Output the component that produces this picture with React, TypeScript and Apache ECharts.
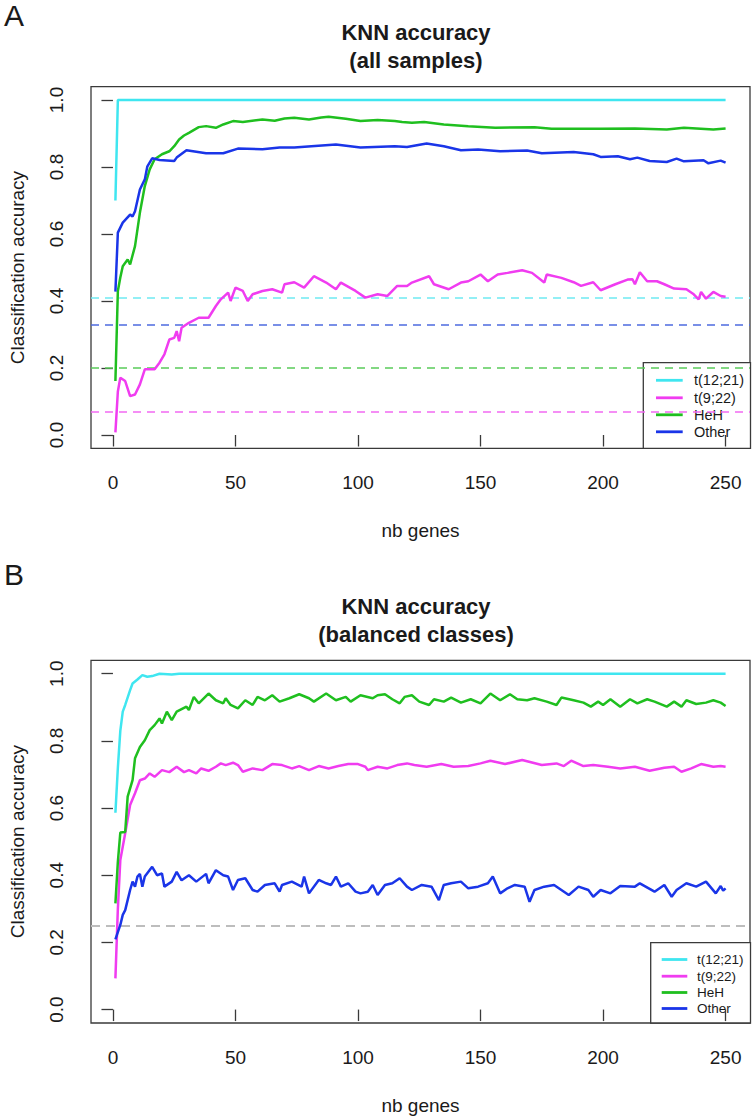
import React, { useEffect, useRef } from "react";
import * as echarts from "echarts";

const FONT = "'Liberation Sans', Arial, Helvetica, sans-serif";

const classNames = ["t(12;21)", "t(9;22)", "HeH", "Other"];
const lineColors = ["#3FE6F0", "#F03CF0", "#1FBF1F", "#1A35E8"];
const chanceColors = ["#6FEAF2", "#F26AF2", "#5ACB5A", "#4D6BE0"];
const xTicks = [0, 50, 100, 150, 200, 250];
const yTicks = [0, 0.2, 0.4, 0.6, 0.8, 1];

const aChance = [0.413, 0.074, 0.196, 0.325];
const bChance = 0.25;

// Panel A: all samples  [nb genes, accuracy]
const aT1221 = [[1, 0.7], [2, 1.0], [250, 1.0]];

const aT922 = [
  [1, 0.008], [2, 0.13], [3, 0.171], [5, 0.161], [7, 0.116], [9, 0.121], [11, 0.151], [13, 0.196],
  [17, 0.196], [19, 0.216], [21, 0.241], [23, 0.285], [25, 0.29], [26, 0.31], [27, 0.28], [28, 0.32],
  [31, 0.335], [35, 0.35], [39, 0.35], [42, 0.385], [44, 0.405], [47, 0.425], [48, 0.4], [50, 0.44],
  [53, 0.43], [55, 0.4], [57, 0.42], [61, 0.43], [65, 0.435], [69, 0.425], [70, 0.45], [74, 0.456],
  [78, 0.44], [82, 0.474], [87, 0.455], [91, 0.435], [93, 0.455], [99, 0.43], [103, 0.41], [108, 0.42],
  [112, 0.415], [116, 0.445], [120, 0.445], [122, 0.455], [129, 0.474], [131, 0.45], [137, 0.435],
  [142, 0.455], [145, 0.459], [150, 0.479], [153, 0.459], [157, 0.479], [161, 0.484], [167, 0.492],
  [171, 0.484], [176, 0.455], [177, 0.479], [183, 0.469], [188, 0.456], [191, 0.445], [196, 0.456],
  [199, 0.432], [205, 0.45], [210, 0.464], [212, 0.465], [213, 0.45], [215, 0.486], [218, 0.459],
  [222, 0.459], [225, 0.45], [229, 0.437], [234, 0.435], [237, 0.42], [239, 0.405], [240, 0.427],
  [242, 0.407], [245, 0.427], [248, 0.415], [250, 0.413],
];

const aHeH = [
  [1, 0.161], [2, 0.43], [3, 0.47], [4, 0.504], [6, 0.524], [7, 0.509], [9, 0.564], [11, 0.664],
  [13, 0.743], [15, 0.793], [17, 0.823], [20, 0.838], [23, 0.847], [25, 0.862], [27, 0.882], [29, 0.894],
  [31, 0.902], [35, 0.919], [38, 0.922], [42, 0.917], [45, 0.927], [49, 0.937], [53, 0.934], [61, 0.942],
  [66, 0.938], [70, 0.945], [74, 0.947], [80, 0.942], [85, 0.948], [88, 0.95], [95, 0.944], [101, 0.937],
  [108, 0.94], [115, 0.937], [118, 0.934], [122, 0.932], [127, 0.934], [135, 0.927], [145, 0.922],
  [156, 0.917], [172, 0.919], [179, 0.914], [199, 0.914], [213, 0.915], [226, 0.912], [233, 0.917],
  [245, 0.912], [250, 0.915],
];

const aOther = [
  [1, 0.428], [2, 0.604], [4, 0.634], [7, 0.658], [8, 0.652], [9, 0.668], [11, 0.733], [13, 0.763],
  [14, 0.801], [16, 0.826], [19, 0.821], [25, 0.818], [26, 0.828], [30, 0.85], [38, 0.841], [45, 0.841],
  [51, 0.855], [61, 0.853], [68, 0.858], [74, 0.858], [81, 0.862], [91, 0.867], [101, 0.858], [115, 0.862],
  [120, 0.86], [128, 0.87], [135, 0.862], [142, 0.85], [149, 0.852], [158, 0.847], [169, 0.849],
  [175, 0.841], [188, 0.845], [196, 0.838], [199, 0.83], [206, 0.832], [211, 0.823], [214, 0.828],
  [219, 0.818], [226, 0.815], [230, 0.825], [233, 0.817], [241, 0.82], [243, 0.811], [248, 0.819],
  [250, 0.813],
];

// Panel B: balanced classes
const bT1221 = [
  [1, 0.586], [2, 0.72], [3, 0.83], [4, 0.887], [5, 0.907], [7, 0.951], [8, 0.971], [10, 0.983],
  [12, 0.996], [14, 0.991], [16, 0.993], [19, 1.0], [24, 0.998], [27, 1.0], [250, 1.0],
];

const bT922 = [
  [1, 0.093], [2, 0.3], [3, 0.445], [5, 0.525], [7, 0.609], [9, 0.644], [11, 0.683], [13, 0.688],
  [15, 0.703], [17, 0.693], [20, 0.713], [23, 0.707], [26, 0.723], [29, 0.707], [31, 0.713], [34, 0.703],
  [36, 0.718], [39, 0.711], [42, 0.723], [44, 0.733], [46, 0.728], [49, 0.735], [51, 0.728], [53, 0.708],
  [57, 0.718], [61, 0.713], [65, 0.731], [69, 0.728], [73, 0.718], [76, 0.725], [80, 0.713], [84, 0.725],
  [88, 0.718], [92, 0.725], [96, 0.731], [100, 0.731], [103, 0.723], [104, 0.713], [108, 0.723],
  [112, 0.718], [116, 0.728], [120, 0.733], [123, 0.728], [128, 0.723], [134, 0.731], [139, 0.723],
  [145, 0.725], [150, 0.733], [154, 0.741], [160, 0.731], [167, 0.743], [175, 0.728], [181, 0.733],
  [184, 0.725], [187, 0.741], [192, 0.725], [196, 0.728], [202, 0.723], [207, 0.718], [213, 0.723],
  [219, 0.711], [225, 0.72], [229, 0.723], [232, 0.708], [236, 0.718], [240, 0.731], [245, 0.723],
  [248, 0.725], [250, 0.723],
];

const bHeH = [
  [1, 0.316], [2, 0.44], [3, 0.527], [5, 0.529], [6, 0.634], [8, 0.683], [9, 0.748], [11, 0.782],
  [13, 0.802], [15, 0.832], [17, 0.847], [19, 0.867], [20, 0.852], [22, 0.887], [24, 0.862], [26, 0.887],
  [30, 0.902], [31, 0.892], [33, 0.931], [35, 0.912], [39, 0.941], [42, 0.921], [45, 0.912], [46, 0.927],
  [48, 0.907], [51, 0.897], [54, 0.921], [57, 0.907], [59, 0.931], [62, 0.921], [65, 0.936], [68, 0.917],
  [72, 0.927], [76, 0.939], [80, 0.927], [82, 0.917], [87, 0.941], [91, 0.921], [95, 0.931], [97, 0.917],
  [101, 0.936], [106, 0.927], [108, 0.936], [111, 0.939], [114, 0.924], [117, 0.912], [119, 0.931],
  [122, 0.936], [125, 0.917], [129, 0.907], [131, 0.924], [135, 0.917], [138, 0.929], [142, 0.914],
  [146, 0.924], [150, 0.912], [154, 0.941], [158, 0.921], [162, 0.939], [165, 0.924], [169, 0.921],
  [172, 0.927], [177, 0.917], [181, 0.907], [183, 0.929], [188, 0.921], [192, 0.914], [195, 0.902],
  [198, 0.917], [200, 0.907], [203, 0.924], [207, 0.902], [211, 0.924], [214, 0.912], [218, 0.924],
  [221, 0.917], [226, 0.902], [229, 0.917], [232, 0.902], [234, 0.921], [238, 0.91], [242, 0.914],
  [245, 0.921], [248, 0.914], [250, 0.904],
];

const bOther = [
  [1, 0.209], [3, 0.252], [4, 0.282], [5, 0.296], [7, 0.356], [8, 0.381], [9, 0.366], [10, 0.396],
  [11, 0.404], [12, 0.366], [13, 0.396], [16, 0.425], [18, 0.4], [20, 0.405], [21, 0.366], [24, 0.381],
  [26, 0.41], [28, 0.385], [31, 0.4], [34, 0.381], [38, 0.404], [39, 0.376], [42, 0.415], [45, 0.4],
  [47, 0.396], [49, 0.356], [51, 0.386], [54, 0.391], [57, 0.356], [59, 0.351], [62, 0.371], [66, 0.376],
  [68, 0.351], [69, 0.371], [73, 0.381], [77, 0.366], [78, 0.396], [80, 0.346], [84, 0.386], [87, 0.376],
  [89, 0.371], [91, 0.396], [93, 0.366], [96, 0.376], [99, 0.351], [101, 0.346], [104, 0.351],
  [106, 0.371], [108, 0.341], [111, 0.371], [114, 0.376], [117, 0.391], [120, 0.366], [122, 0.356],
  [126, 0.371], [130, 0.366], [133, 0.326], [135, 0.371], [138, 0.376], [142, 0.381], [145, 0.361],
  [149, 0.366], [153, 0.376], [155, 0.396], [158, 0.346], [161, 0.361], [164, 0.371], [168, 0.366],
  [170, 0.321], [172, 0.356], [176, 0.366], [180, 0.371], [186, 0.341], [190, 0.366], [194, 0.356],
  [196, 0.336], [199, 0.356], [203, 0.346], [207, 0.368], [213, 0.366], [215, 0.376], [221, 0.351],
  [225, 0.371], [228, 0.336], [230, 0.356], [234, 0.376], [238, 0.366], [242, 0.381], [246, 0.346],
  [248, 0.368], [249, 0.354], [250, 0.361],
];

const panelA = [aT1221, aT922, aHeH, aOther];
const panelB = [bT1221, bT922, bHeH, bOther];

const AXIS_COLOR = "#3a3a3a";
const TEXT_COLOR = "#1a1a1a";

function makeAxes(i: number) {
  const x = {
    gridIndex: i,
    type: "value",
    min: -8.96,
    max: 259.96,
    axisLine: { show: false },
    splitLine: { show: false },
    axisTick: { show: true, customValues: xTicks, length: 11.5, lineStyle: { color: AXIS_COLOR, width: 1.3 } },
    axisLabel: { customValues: xTicks, margin: 25, fontSize: 19, color: TEXT_COLOR, fontFamily: FONT },
    name: "nb genes",
    nameLocation: "middle",
    nameGap: 73,
    nameTextStyle: { fontSize: 19, color: TEXT_COLOR, fontFamily: FONT },
  };
  const y = {
    gridIndex: i,
    type: "value",
    min: -0.04,
    max: 1.04,
    axisLine: { show: false },
    splitLine: { show: false },
    axisTick: { show: true, customValues: yTicks, length: 11.5, lineStyle: { color: AXIS_COLOR, width: 1.3 } },
    axisLabel: {
      customValues: yTicks,
      rotate: 90,
      margin: 25,
      fontSize: 19,
      color: TEXT_COLOR,
      fontFamily: FONT,
      formatter: (v: number) => v.toFixed(1),
    },
    name: "Classification accuracy",
    nameLocation: "middle",
    nameGap: 64,
    nameTextStyle: { fontSize: 19, color: TEXT_COLOR, fontFamily: FONT },
  };
  return { x, y };
}

function legendGraphic(
  bx: number, by: number, bw: number, bh: number,
  rows: number[], lx1: number, lx2: number, tx: number, fs: number
) {
  const children: any[] = [
    {
      type: "rect",
      shape: { x: bx, y: by, width: bw, height: bh },
      style: { fill: "#ffffff", stroke: AXIS_COLOR, lineWidth: 1.3 },
    },
  ];
  classNames.forEach((name, k) => {
    children.push({
      type: "line",
      shape: { x1: lx1, y1: rows[k], x2: lx2, y2: rows[k] },
      style: { stroke: lineColors[k], lineWidth: 2.8 },
    });
    children.push({
      type: "text",
      x: tx,
      y: rows[k],
      style: {
        text: name,
        fontSize: fs,
        fontFamily: FONT,
        fill: TEXT_COLOR,
        align: "left",
        verticalAlign: "middle",
      },
    });
  });
  return { type: "group", z: 100, children };
}

function textEl(text: string, x: number, y: number, fs: number, weight: string, align = "center") {
  return {
    type: "text",
    x,
    y,
    z: 100,
    style: {
      text,
      fontSize: fs,
      fontWeight: weight,
      fontFamily: FONT,
      fill: TEXT_COLOR,
      align,
      verticalAlign: "middle",
    },
  };
}

function buildOption() {
  const axA = makeAxes(0);
  const axB = makeAxes(1);
  const series: any[] = [];
  panelA.forEach((data, k) => {
    series.push({
      type: "line",
      name: classNames[k],
      xAxisIndex: 0,
      yAxisIndex: 0,
      data,
      showSymbol: false,
      symbol: "none",
      lineStyle: { color: lineColors[k], width: 2.5 },
      itemStyle: { color: lineColors[k] },
      z: 3,
      markLine: {
        silent: true,
        symbol: ["none", "none"],
        label: { show: false },
        lineStyle: { color: chanceColors[k], width: 1.6, type: [8, 6] },
        data: [{ yAxis: aChance[k] }],
        z: 2,
      },
    });
  });
  panelB.forEach((data, k) => {
    const s: any = {
      type: "line",
      name: classNames[k],
      xAxisIndex: 1,
      yAxisIndex: 1,
      data,
      showSymbol: false,
      symbol: "none",
      lineStyle: { color: lineColors[k], width: 2.5 },
      itemStyle: { color: lineColors[k] },
      z: 3,
    };
    if (k === 0) {
      s.markLine = {
        silent: true,
        symbol: ["none", "none"],
        label: { show: false },
        lineStyle: { color: "#BDBDBD", width: 2, type: [9, 6] },
        data: [{ yAxis: bChance }],
        z: 2,
      };
    }
    series.push(s);
  });

  return {
    animation: false,
    backgroundColor: "#ffffff",
    textStyle: { fontFamily: FONT },
    grid: [
      { left: 88.5, top: 86.6, width: 661.5, height: 361.8, show: true, borderColor: AXIS_COLOR, borderWidth: 1.3, backgroundColor: "transparent" },
      { left: 88.5, top: 660.3, width: 661.5, height: 362.7, show: true, borderColor: AXIS_COLOR, borderWidth: 1.3, backgroundColor: "transparent" },
    ],
    xAxis: [axA.x, axB.x],
    yAxis: [axA.y, axB.y],
    series,
    graphic: [
      textEl("A", 14, 15, 30, "normal"),
      textEl("KNN accuracy", 416, 32, 22, "bold"),
      textEl("(all samples)", 416, 60, 22, "bold"),
      textEl("B", 14, 574, 30, "normal"),
      textEl("KNN accuracy", 416, 606, 22, "bold"),
      textEl("(balanced classes)", 416, 634, 22, "bold"),
      legendGraphic(643.3, 362.7, 107.2, 85.7, [380.3, 397.8, 414.8, 431.8], 656, 682.7, 694, 14.5),
      legendGraphic(650.7, 942.7, 99.8, 80.3, [959.5, 976.2, 992.5, 1008.5], 661.7, 687.3, 697, 13.5),
    ],
  };
}

export default function App() {
  const ref = useRef<HTMLDivElement>(null);
  useEffect(() => {
    const chart = echarts.init(ref.current as HTMLDivElement, null, { renderer: "svg" });
    chart.setOption(buildOption() as any);
    return () => chart.dispose();
  }, []);
  return (
    <div
      ref={ref}
      style={{ position: "absolute", left: 0, top: 0, width: 754, height: 1117, background: "#ffffff" }}
    />
  );
}
